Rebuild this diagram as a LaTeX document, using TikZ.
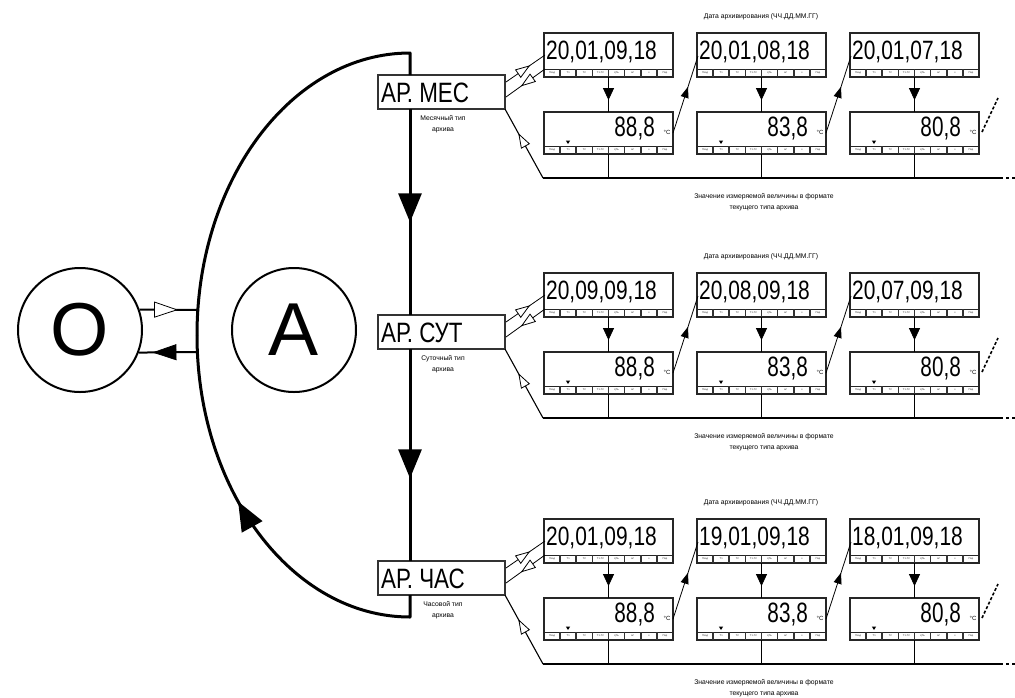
\documentclass[tikz,border=0pt]{standalone}
\usepackage{graphicx}
\usepackage{fontspec}
\setmainfont{Liberation Sans}
\usetikzlibrary{arrows.meta,decorations.markings,calc}
\tikzset{
  bigarr/.style={postaction={decorate},decoration={markings,mark=at position #1 with {\arrow{Triangle[length=29pt,width=23pt]}}}},
  smallarr/.style={postaction={decorate},decoration={markings,mark=at position #1 with {\arrow{Triangle[length=12pt,width=11pt]}}}},
  thinarr/.style={postaction={decorate},decoration={markings,mark=at position #1 with {\arrow{Triangle[length=11pt,width=8pt]}}}},
  openarr/.style={postaction={decorate},decoration={markings,mark=at position #1 with {\pgfsetlinewidth{0.8pt}\arrow{Triangle[length=15pt,width=10pt,fill=white]}}}},
  bigopenarr/.style={postaction={decorate},decoration={markings,mark=at position #1 with {\pgfsetlinewidth{0.8pt}\arrow{Triangle[length=24pt,width=16pt,fill=white]}}}},
  bigfillarr/.style={postaction={decorate},decoration={markings,mark=at position #1 with {\pgfsetlinewidth{0.8pt}\arrow{Triangle[length=24pt,width=16pt]}}}},
  mainline/.style={line width=3pt},
  lcdbox/.style={draw=black!85,line width=1.3pt,fill=white,minimum width=129pt,minimum height=44pt,anchor=north west,inner sep=0pt,outer sep=0pt},
  valbox/.style={lcdbox,minimum height=42pt},
  arbox/.style={draw=black!80,line width=1.3pt,fill=white,minimum width=127pt,minimum height=34pt,inner sep=0pt,outer sep=0pt},
  lcdtext/.style={inner sep=0pt,font=\fontsize{26.5}{28}\selectfont},
  artext/.style={inner sep=0pt,font=\fontsize{28}{30}\selectfont},
  valtext/.style={inner sep=0pt,font=\fontsize{28}{30}\selectfont},
  degtext/.style={inner sep=0pt,font=\fontsize{6}{6}\selectfont},
  lbl/.style={inner sep=0pt,align=center,font=\fontsize{6.8}{10.5}\selectfont},
  celltext/.style={inner sep=0pt,font=\fontsize{2.6}{3}\selectfont,black!80},
  link/.style={line width=1.1pt},
  thinlink/.style={line width=0.8pt},
  bigcirc/.style={circle,draw,line width=2pt,minimum size=124pt,inner sep=0pt,font=\fontsize{75}{75}\selectfont},
}
\newcommand\lcdstrip[1]{%
  \coordinate (#1s) at ($(#1.south west)+(0,-8)$);
  \draw[line width=0.8pt,black!85] (#1s) -- ($(#1.south east)+(0,-8)$);
  \foreach \k in {1,...,7}{\fill[black!80] ($(#1s)+(\k*16.125-0.8,0)$) rectangle ++(1.6,8);}
  \foreach \k/\s in {0/Пзад,1/Т1,2/Т2,3/Т1-Т2,4/qТЬ,5/м³,6/ч,7/Пар}{\node[celltext] (#1c\k) at ($(#1s)+(\k*16.125+8.06,4)$) {\s};}
}
\newcommand\lcdcol[6]{%
  \node[lcdbox] (d#1#2) at (#3,#4) {};
  \node[valbox] (v#1#2) at (#3,#4+79) {};
  \lcdstrip{d#1#2}
  \lcdstrip{v#1#2}
  \node[lcdtext,anchor=west] (dt#1#2) at (#3+2,#4+19) {\scalebox{0.79}[1]{#5}};
  \node[valtext,anchor=east] (vt#1#2) at (#3+111,#4+96) {\scalebox{0.74}[1]{#6}};
  \node[degtext] (dg#1#2) at (#3+123,#4+99) {°C};
  \fill (#3+24,#4+111) -- ++(-2.2,-3.5) -- ++(4.4,0) -- cycle;
  \draw[thinlink,smallarr=0.66] (d#1#2.south) -- (v#1#2.north);
  \draw[thinlink] (v#1#2.south) -- (v#1#2.south |- hl#1);
}
\newcommand\archrow[7]{%
  \coordinate (hl#1) at (543,#2+145);
  \coordinate (hr#1) at (1000,#2+145);
  \draw[link] (hl#1) -- (hr#1);
  \draw[link,dash pattern=on 3pt off 3pt] (hr#1) -- ++(15,0);
  \lcdcol{#1}{a}{544}{#2}{#5}{88,8}
  \lcdcol{#1}{b}{697}{#2}{#6}{83,8}
  \lcdcol{#1}{c}{850}{#2}{#7}{80,8}
  \node[arbox] (ar#1) at (441.5,#2+59) {};
  \node[artext,anchor=west] (art#1) at (381,#2+60) {\scalebox{0.8}[1]{АР. #3}};
  \node[lbl] (al#1) at (443,#2+91) {#4};
  \node[lbl] (dl#1) at (761,#2-16) {Дата архивирования (ЧЧ.ДД.ММ.ГГ)};
  \node[lbl] (vl#1) at (764,#2+169) {Значение измеряемой величины в формате\\текущего типа архива};
  \draw[thinlink,openarr=0.62] ($(ar#1.north east)+(1,7)$) -- ($(d#1a.north west)+(1,22)$);
  \draw[thinlink,openarr=0.62] ($(d#1a.north west)+(1,36)$) -- ($(ar#1.north east)+(1,22)$);
  \draw[link,openarr=0.65] (hl#1) -- (ar#1.south east);
  \draw[thinlink,thinarr=0.6] ($(v#1a.north east)+(0,21)$) -- ($(d#1b.north west)+(1,23)$);
  \draw[thinlink,thinarr=0.6] ($(v#1b.north east)+(0,21)$) -- ($(d#1c.north west)+(1,23)$);
  \draw[line width=1.6pt,dash pattern=on 3pt off 2pt] ($(v#1c.north east)+(3,20)$) -- ++(16,-34);
}
\begin{document}
\begin{tikzpicture}[x=1pt,y=-1pt]
\useasboundingbox (0,0) rectangle (1015,697);
\fill[white] (0,0) rectangle (1015,697);
\coordinate (top) at (410,53);
\coordinate (bot) at (410,617);
\coordinate (lft) at (197,335);
\archrow{1}{33}{МЕС}{Месячный тип\\архива}{20,01,09,18}{20,01,08,18}{20,01,07,18}
\archrow{2}{273}{СУТ}{Суточный тип\\архива}{20,09,09,18}{20,08,09,18}{20,07,09,18}
\archrow{3}{519}{ЧАС}{Часовой тип\\архива}{20,01,09,18}{19,01,09,18}{18,01,09,18}
\draw[mainline,line join=round] (lft) .. controls (197,179.3) and (292.4,53) .. (top) -- (top |- ar1.north);
\draw[mainline,bigarr=0.55] (top |- ar1.south) -- (top |- ar2.north);
\draw[mainline,bigarr=0.61] (top |- ar2.south) -- (top |- ar3.north);
\draw[mainline,line join=round,bigarr=0.58] (top |- ar3.south) -- (bot) .. controls (292.4,617) and (197,490.7) .. (lft);
\node[bigcirc] (O) at (80,330) {О};
\node[bigcirc] (A) at (294,330) {А};
\coordinate (aU) at (198,310);
\coordinate (aL) at (198,352);
\draw[line width=2pt,bigopenarr=0.66] (O.19) -- (aU);
\draw[line width=2pt,bigfillarr=0.77] (aL) -- (O.-21);
\end{tikzpicture}
\end{document}
